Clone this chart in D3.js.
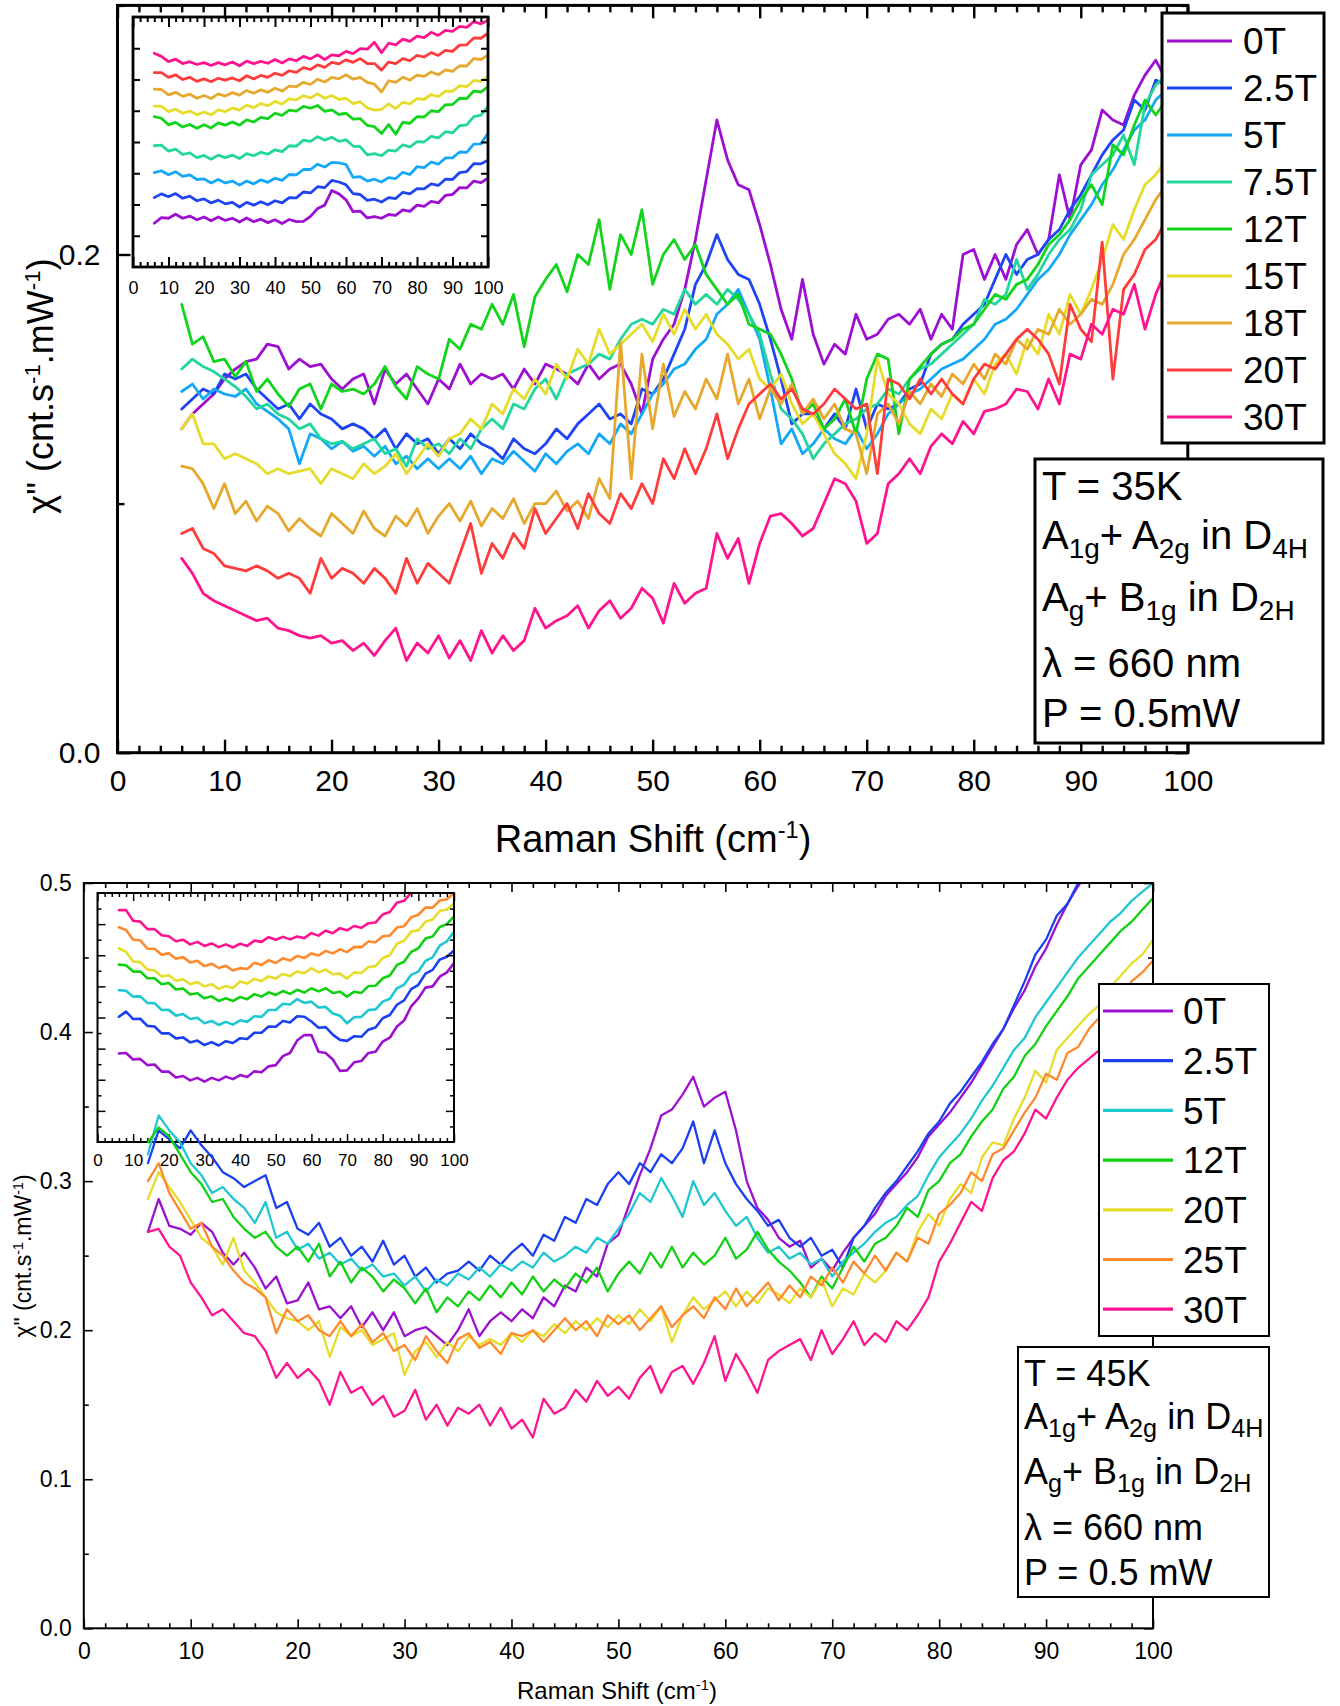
<!DOCTYPE html>
<html><head><meta charset="utf-8">
<script src="https://cdn.jsdelivr.net/npm/d3@7/dist/d3.min.js"></script>
<style>html,body{margin:0;padding:0;background:#fff}svg{display:block}text{white-space:pre}</style>
</head><body>
<svg id="chart" width="1340" height="1706" xmlns="http://www.w3.org/2000/svg"></svg>
<script>
// ================= DATA =================
// Raman shift sampling (cm^-1)
const shiftTop=[6,7,8,9,10,11,12,13,14,15,16,17,18,19,20,21,22,23,24,25,26,27,28,29,30,31,32,33,34,35,36,37,38,39,40,41,42,43,44,45,46,47,48,49,50,51,52,53,54,55,56,57,58,59,60,61,62,63,64,65,66,67,68,69,70,71,72,73,74,75,76,77,78,79,80,81,82,83,84,85,86,87,88,89,90,91,92,93,94,95,96,97,98];
const shiftBottom=[6,7,8,9,10,11,12,13,14,15,16,17,18,19,20,21,22,23,24,25,26,27,28,29,30,31,32,33,34,35,36,37,38,39,40,41,42,43,44,45,46,47,48,49,50,51,52,53,54,55,56,57,58,59,60,61,62,63,64,65,66,67,68,69,70,71,72,73,74,75,76,77,78,79,80,81,82,83,84,85,86,87,88,89,90,91,92,93,94,95,96,97,98,99,100];
const shiftInset=[6,8,10,12,14,16,18,20,22,24,26,28,30,32,34,36,38,40,42,44,46,48,50,52,54,56,58,60,62,64,66,68,70,72,74,76,78,80,82,84,86,88,90,92,94,96,98,100];

// Top panel (T = 35K): chi'' in units of 1e-3 cnt.s^-1.mW^-1
const fieldsTop=['0T','2.5T','5T','7.5T','12T','15T','18T','20T','30T'];
const top0T=[130,136,140,144,150,154,157,158,164,163,154,158,155,156,150,146,150,152,140,154,148,152,146,140,150,146,156,148,152,150,152,146,154,148,156,154,152,148,156,150,154,156,148,136,158,166,172,186,206,230,254,238,228,226,212,196,178,166,190,168,156,164,160,176,166,168,174,176,172,178,166,176,170,200,202,190,200,190,204,210,200,206,232,214,236,242,258,254,252,264,272,278,270];
const top2p5T=[138,142,146,144,152,150,152,146,142,138,140,134,140,136,134,130,132,130,126,130,122,128,124,126,120,126,122,128,124,122,118,126,122,120,124,130,126,132,136,140,134,136,132,146,144,150,160,170,188,196,208,198,192,190,180,166,150,132,136,136,130,136,130,146,130,140,138,140,146,148,160,164,166,172,176,180,190,200,192,198,200,206,210,218,224,232,240,246,250,262,258,270,268];
const top5T=[145,148,142,146,144,143,146,140,137,134,130,116,128,126,122,125,121,123,119,123,116,119,114,118,114,118,114,119,112,118,116,121,117,113,120,116,121,124,120,128,124,132,128,136,144,148,154,156,162,166,176,180,186,176,166,146,124,130,120,124,130,126,124,130,122,128,136,140,144,146,150,154,156,158,162,166,172,174,178,184,190,194,200,208,214,220,228,234,242,250,254,262,266];
const top7p5T=[154,158,155,153,150,147,143,138,140,136,134,130,132,126,124,125,122,124,126,120,122,115,126,122,124,120,126,122,130,134,130,140,138,146,150,142,152,154,156,160,158,166,172,174,172,178,176,186,180,184,180,186,182,176,168,152,138,134,128,118,124,128,132,134,138,140,146,144,150,154,156,160,164,168,172,182,180,184,198,186,192,200,206,210,218,232,236,240,248,236,260,268,272];
const top12T=[180,164,167,157,158,151,157,145,150,144,139,146,148,138,148,145,146,144,148,155,147,142,155,152,150,166,162,172,170,180,172,184,163,183,190,196,185,200,196,214,186,208,200,218,188,200,206,198,204,192,186,180,184,172,170,168,160,150,136,140,130,134,142,128,150,160,158,128,150,155,160,164,166,170,172,178,184,182,188,190,196,204,208,214,222,228,220,244,240,252,262,256,262];
const top15T=[130,136,124,124,118,120,118,116,112,114,112,113,114,108,114,112,110,116,112,115,120,112,118,124,119,126,128,134,130,140,136,146,142,150,144,156,150,162,156,170,160,164,168,172,165,176,168,178,170,176,168,164,158,162,150,146,152,140,132,136,128,120,116,110,128,158,144,140,132,128,138,134,144,140,150,144,156,160,152,166,160,176,168,184,176,186,198,212,206,218,228,232,238];
const top18T=[115,114,108,98,108,96,101,93,99,96,89,94,90,87,96,92,88,97,90,87,95,91,98,88,95,100,93,101,91,98,94,102,92,100,100,105,97,101,94,110,102,165,110,160,130,156,135,145,138,150,142,160,140,150,134,146,140,148,136,142,134,140,130,128,112,136,140,132,145,140,148,143,152,148,156,150,160,156,166,162,170,168,178,172,176,182,180,188,200,206,214,222,228];
const top20T=[88,90,82,80,75,74,73,75,73,70,72,70,64,78,70,74,72,68,74,70,64,78,68,76,72,68,80,92,72,84,78,88,82,98,88,94,100,90,104,96,92,104,98,108,100,118,110,122,112,122,136,118,130,140,144,148,142,146,138,136,140,146,142,138,140,112,150,148,142,150,144,150,144,140,150,156,154,160,166,170,166,160,148,180,170,165,205,150,186,192,202,206,214];
const top30T=[78,72,64,61,59,57,55,53,54,50,49,47,46,47,44,45,41,44,39,45,50,37,44,40,47,38,45,37,49,40,47,41,45,58,50,53,55,59,50,57,61,54,58,66,62,52,68,60,64,66,88,78,86,68,84,95,96,92,87,90,100,110,108,101,84,88,108,112,118,112,123,128,124,133,128,137,138,140,146,145,138,150,140,160,158,172,168,178,176,188,170,184,194];

// Top inset: offset spectra (arb. units x100)
const topIn0T=[140,158,156,169,156,163,151,160,148,160,149,156,144,157,145,153,142,151,139,152,145,146,162,187,198,245,234,215,177,179,157,161,156,168,165,183,178,198,194,210,205,229,232,254,253,275,270,284];
const topIn2p5T=[222,234,225,235,220,227,212,218,205,214,202,207,192,207,198,209,199,212,205,222,221,240,237,257,254,277,272,263,235,232,213,217,208,222,219,239,234,251,250,266,261,281,280,302,305,331,330,342];
const topIn5T=[302,308,295,305,290,295,280,282,269,280,269,275,262,275,266,279,271,284,277,296,295,312,312,329,320,335,333,328,287,289,275,281,272,286,283,303,296,321,318,336,329,349,349,368,367,393,394,428];
const topIn7p5T=[388,390,371,377,360,365,350,357,345,358,350,358,347,363,356,367,361,375,369,388,387,406,402,417,406,415,402,407,387,385,359,363,356,374,371,391,384,401,400,418,413,433,429,452,455,481,486,513];
const topIn12T=[481,476,455,463,448,456,444,455,445,461,454,464,454,471,464,479,475,492,485,502,499,514,508,517,498,503,488,492,473,475,453,449,427,456,425,463,460,481,480,500,497,519,520,540,539,563,560,577];
const topIn15T=[515,514,497,505,492,499,487,496,487,503,497,509,502,518,510,523,516,530,521,538,535,548,541,554,540,549,536,540,523,529,509,502,504,522,507,527,522,539,536,552,545,563,562,580,577,597,594,609];
const topIn18T=[569,568,551,559,546,553,540,549,539,554,547,558,550,565,556,567,559,572,563,579,577,591,584,601,592,607,602,615,601,607,591,585,560,596,591,607,598,614,610,624,615,631,626,644,643,667,664,678];
const topIn20T=[622,622,607,615,600,607,594,602,593,604,598,605,596,612,602,613,607,620,613,628,623,638,632,647,639,655,650,663,655,667,651,651,630,656,651,667,660,677,672,686,677,693,690,710,711,733,732,748];
const topIn30T=[684,674,657,665,651,657,648,654,645,654,647,656,644,659,651,658,652,664,653,666,660,674,666,679,664,679,676,690,683,699,697,719,686,716,711,729,722,739,734,751,741,757,754,770,767,785,778,790];

// Bottom panel (T = 45K): chi'' in units of 1e-3 cnt.s^-1.mW^-1
const fieldsBottom=['0T','2.5T','5T','12T','20T','25T','30T'];
const bot0T=[266,288,270,268,264,272,266,252,244,252,242,228,236,218,220,232,214,216,208,216,202,212,200,212,196,200,202,196,190,200,214,196,206,212,206,214,208,222,216,230,226,242,236,258,264,284,304,322,344,348,358,370,350,356,360,334,300,282,274,262,256,260,242,248,240,252,262,270,278,290,298,306,316,330,338,346,356,366,378,390,402,416,428,444,456,472,486,498,508,516,524,534,540,548,556];
const bot2p5T=[312,334,328,322,334,324,316,306,302,296,300,304,282,286,268,264,272,256,262,250,256,246,260,244,250,236,242,232,238,240,246,240,250,244,252,258,250,264,260,276,272,288,284,298,306,298,312,306,318,312,322,340,312,334,312,298,288,280,270,274,262,256,262,250,254,242,262,270,282,292,300,310,320,332,340,352,360,370,380,392,402,418,434,452,462,478,486,500,512,520,530,540,548,556,566];
const bot5T=[318,344,334,326,312,304,292,296,288,282,272,286,262,266,254,258,248,252,244,248,240,244,236,238,230,236,226,234,230,238,234,242,236,244,240,246,242,252,246,250,256,252,262,258,268,278,292,286,302,290,276,300,284,292,280,270,276,262,252,256,248,252,244,248,236,246,252,258,266,272,276,284,290,304,316,324,332,342,354,364,376,388,396,410,420,430,440,450,458,466,474,480,488,494,500];
const bot12T=[326,336,330,318,306,298,286,288,276,268,262,266,256,250,256,246,258,236,246,232,242,236,226,234,228,218,228,212,222,216,226,220,230,222,232,224,236,226,234,228,238,232,242,226,238,246,238,252,242,256,242,252,244,250,262,248,254,266,254,246,240,232,222,236,228,242,256,246,258,262,270,282,276,294,300,312,318,330,340,348,362,370,384,392,404,414,424,436,444,452,460,468,474,482,490];
const bot20T=[288,306,296,286,274,262,256,244,262,240,232,222,212,208,206,200,206,182,202,196,200,190,194,198,170,186,192,182,192,186,196,190,194,190,198,192,200,196,204,198,206,200,208,202,210,204,214,206,216,192,210,222,214,220,226,216,226,218,228,224,218,228,222,234,216,228,224,238,232,240,252,246,266,278,270,288,298,292,316,326,324,342,356,374,366,388,396,404,412,418,430,438,446,452,462];
const bot25T=[300,312,292,280,268,272,256,250,240,232,228,222,198,214,206,210,200,196,206,196,204,192,198,186,190,180,196,186,178,194,198,188,192,184,198,196,200,192,200,208,200,206,196,210,204,210,200,208,216,202,210,216,208,222,214,228,216,224,232,220,230,222,236,230,242,232,246,238,250,240,252,246,262,258,278,284,292,306,300,318,322,334,346,356,372,368,386,390,402,410,418,424,434,440,448];
const bot30T=[266,268,256,250,232,222,210,214,206,198,196,186,168,178,168,174,166,150,172,158,162,150,156,142,146,160,140,150,136,148,144,150,136,148,134,140,128,154,144,148,160,152,166,156,162,154,168,176,158,172,176,164,178,196,166,184,172,158,180,186,190,194,180,200,184,194,206,190,198,192,206,200,210,222,246,258,272,286,280,302,314,320,332,348,342,356,368,376,382,388,380,396,404,402,418];

// Bottom inset: offset spectra (arb. units x100)
const botIn0T=[569,572,530,534,494,498,452,452,414,424,396,412,388,412,396,420,404,430,418,454,448,486,494,552,572,652,687,688,580,572,530,457,460,512,520,572,580,645,670,742,780,872,923,992,1000,1062,1090,1150];
const botIn2p5T=[805,838,790,792,746,742,698,699,666,672,640,652,623,642,620,648,636,667,662,702,702,742,741,778,768,808,805,774,734,738,690,656,650,680,676,722,736,795,816,882,910,982,1010,1082,1106,1172,1190,1230];
const botIn5T=[976,972,934,936,894,892,848,849,812,822,790,798,763,778,752,772,754,782,772,808,804,848,848,888,884,918,894,902,864,868,826,812,763,802,804,848,852,902,920,988,1010,1074,1095,1164,1186,1262,1290,1350];
const botIn12T=[1140,1136,1095,1096,1052,1052,1014,1022,980,986,948,956,923,936,906,924,906,932,918,950,934,962,945,970,952,978,960,988,968,988,958,966,934,966,958,1002,1004,1052,1070,1138,1158,1222,1245,1308,1320,1382,1400,1450];
const botIn20T=[1245,1222,1160,1156,1108,1102,1064,1072,1036,1046,1014,1028,1000,1014,984,1002,990,1032,1018,1048,1034,1064,1050,1080,1066,1096,1084,1117,1090,1108,1078,1082,1050,1090,1086,1124,1130,1182,1200,1274,1294,1352,1360,1416,1430,1486,1494,1530];
const botIn25T=[1380,1362,1300,1296,1242,1242,1204,1212,1178,1188,1154,1164,1130,1146,1118,1132,1102,1117,1112,1152,1138,1168,1150,1180,1166,1196,1182,1212,1198,1228,1212,1238,1220,1254,1252,1288,1284,1322,1326,1378,1386,1444,1460,1506,1506,1552,1560,1600];
const botIn30T=[1490,1490,1422,1416,1368,1368,1328,1322,1290,1300,1270,1286,1260,1276,1252,1270,1250,1274,1260,1294,1286,1316,1300,1318,1302,1320,1310,1342,1326,1358,1342,1374,1360,1388,1376,1406,1410,1462,1478,1538,1550,1602,1610,1662,1670,1722,1730,1770];

// Tick values
const xMajorTicks=[0,10,20,30,40,50,60,70,80,90,100];
const yTopMajor=[0,200], yTopMinor=[100,300];
const yBotMajor=[0,100,200,300,400,500], yBotMinor=[50,150,250,350,450];
const yTopInsetTicks=[100,200,300,400,500,600,700];
const yBotInsetMajor=[200,400,600,800,1000,1200,1400], yBotInsetMinor=[100,300,500,700,900,1100,1300,1500];

// ================= STYLE =================
const colorsTop=['#9d10d2','#1f44f2','#14a8f6','#22d69e','#12d41c','#e6dc2c','#e6a82e','#ff3c3c','#ff1490'];
const colorsBottom=['#9c10d0','#1a40f0','#20c6d0','#12d012','#e6dc2c','#ff8a2e','#ff1490'];
const FONT='"Liberation Sans", Arial, Helvetica, sans-serif';
const xMinorTicks=d3.range(0,101,2).filter(v=>v%10!==0);

const svg=d3.select('#chart');
svg.append('rect').attr('width',1340).attr('height',1706).attr('fill','#fff');
let clipN=0;

function rich(parent,x,y,size,segs,opt={}){
  const t=parent.append('text').attr('x',x).attr('y',y).attr('font-family',FONT)
    .attr('font-size',size).attr('fill','#000');
  if(opt.anchor) t.attr('text-anchor',opt.anchor);
  if(opt.transform) t.attr('transform',opt.transform);
  let cur=0;
  segs.forEach(s=>{
    let off=0,fs=size;
    if(s.sub){off=size*(opt.subOff||0.22);fs=size*0.7;}
    if(s.sup){off=-size*0.36;fs=size*0.62;}
    const sp=t.append('tspan').text(s.t).attr('font-size',fs);
    if(off!==cur) sp.attr('dy',off-cur);
    cur=off;
  });
  return t;
}

function frameAxes(g,x,y,o){
  const none=()=>'';
  function put(axis,tx,ty){
    const a=g.append('g').attr('transform',`translate(${tx},${ty})`).call(axis);
    a.select('.domain').remove();
    a.selectAll('.tick line').attr('stroke','#000').attr('stroke-width',o.tickW);
    a.selectAll('.tick text').attr('font-family',FONT).attr('font-size',o.font).attr('fill','#000');
    return a;
  }
  put(d3.axisBottom(x).tickValues(o.xMinor).tickSizeInner(-o.xMinLen).tickSizeOuter(0).tickFormat(none),0,o.bottom);
  put(d3.axisBottom(x).tickValues(o.xMajor).tickSizeInner(-o.xMajLen).tickSizeOuter(0).tickPadding(o.xPad).tickFormat(o.xFmt||none),0,o.bottom);
  put(d3.axisTop(x).tickValues(o.xMinor).tickSizeInner(-o.xMinLen).tickSizeOuter(0).tickFormat(none),0,o.top);
  put(d3.axisTop(x).tickValues(o.xMajor).tickSizeInner(-o.xMajLen).tickSizeOuter(0).tickFormat(none),0,o.top);
  if(o.yMinor.length){
    put(d3.axisLeft(y).tickValues(o.yMinor).tickSizeInner(-o.yMinLen).tickSizeOuter(0).tickFormat(none),o.left,0);
    put(d3.axisRight(y).tickValues(o.yMinor).tickSizeInner(-o.yMinLen).tickSizeOuter(0).tickFormat(none),o.right,0);
  }
  put(d3.axisLeft(y).tickValues(o.yMajor).tickSizeInner(-o.yMajLen).tickSizeOuter(0).tickPadding(o.yPad).tickFormat(o.yFmt||none),o.left,0);
  put(d3.axisRight(y).tickValues(o.yMajor).tickSizeInner(-o.yMajLen).tickSizeOuter(0).tickFormat(none),o.right,0);
  g.append('rect').attr('x',o.left).attr('y',o.top).attr('width',o.right-o.left).attr('height',o.bottom-o.top)
    .attr('fill','none').attr('stroke','#000').attr('stroke-width',o.frameW);
}

function plotLines(g,x,y,o,shift,series,colors,lw){
  const id='clip'+(clipN++);
  svg.append('clipPath').attr('id',id).append('rect')
    .attr('x',o.left).attr('y',o.top).attr('width',o.right-o.left).attr('height',o.bottom-o.top);
  const line=d3.line().x((d,i)=>x(shift[i])).y(d=>y(d));
  const lg=g.append('g').attr('clip-path',`url(#${id})`);
  series.forEach((s,i)=>{
    lg.append('path').datum(s).attr('d',line).attr('fill','none').attr('stroke',colors[i])
      .attr('stroke-width',lw).attr('stroke-linejoin','round').attr('stroke-linecap','round');
  });
}

function legend(g,o,labels,colors){
  g.append('rect').attr('x',o.x).attr('y',o.y).attr('width',o.w).attr('height',o.h)
    .attr('fill','#fff').attr('stroke','#000').attr('stroke-width',o.sw);
  labels.forEach((lab,i)=>{
    const yy=o.y0+i*o.dy;
    g.append('line').attr('x1',o.lx1).attr('x2',o.lx2).attr('y1',yy).attr('y2',yy)
      .attr('stroke',colors[i]).attr('stroke-width',3.2);
    g.append('text').attr('x',o.tx).attr('y',yy+o.size*0.36).attr('font-family',FONT)
      .attr('font-size',o.size).attr('fill','#000').text(lab);
  });
}

function infoBox(g,o,lines){
  g.append('rect').attr('x',o.x).attr('y',o.y).attr('width',o.w).attr('height',o.h)
    .attr('fill','#fff').attr('stroke','#000').attr('stroke-width',o.sw);
  lines.forEach((segs,i)=>rich(g,o.tx,o.base[i],o.size,segs));
}

function boxLines(T,P){
  return [
    [{t:'T = '+T}],
    [{t:'A'},{t:'1g',sub:true},{t:'+ A'},{t:'2g',sub:true},{t:' in D'},{t:'4H',sub:true}],
    [{t:'A'},{t:'g',sub:true},{t:'+ B'},{t:'1g',sub:true},{t:' in D'},{t:'2H',sub:true}],
    [{t:'\u03bb = 660 nm'}],
    [{t:'P = '+P}]
  ];
}
const yLabelSegs=[{t:'\u03c7" (cnt.s'},{t:'-1',sup:true},{t:'.mW'},{t:'-1',sup:true},{t:')'}];
const xLabelSegs=[{t:'Raman Shift (cm'},{t:'-1',sup:true},{t:')'}];

// ================= TOP PANEL =================
(function(){
  const g=svg.append('g');
  const o={left:117.5,right:1187.8,top:5.4,bottom:752.7};
  const x=d3.scaleLinear().domain([0,100]).range([o.left,o.right]);
  const y=d3.scaleLinear().domain([0,300]).range([o.bottom,o.top]);
  const io={left:133,right:488,top:17,bottom:267};
  const ix=d3.scaleLinear().domain([0,100]).range([io.left,io.right]);
  const iy=d3.scaleLinear().domain([0,800]).range([io.bottom,io.top]);
  g.append('rect').attr('x',io.left).attr('y',io.top).attr('width',io.right-io.left).attr('height',io.bottom-io.top).attr('fill','#fff');
  plotLines(g,ix,iy,io,shiftInset,[topIn0T,topIn2p5T,topIn5T,topIn7p5T,topIn12T,topIn15T,topIn18T,topIn20T,topIn30T],colorsTop,2.8);
  frameAxes(g,ix,iy,Object.assign({},io,{xMajor:xMajorTicks,xMinor:xMinorTicks,yMajor:yTopInsetTicks,yMinor:[],
    xMajLen:10,xMinLen:5,yMajLen:7,yMinLen:4,xPad:14,yPad:4,font:18,tickW:2,frameW:2.8,xFmt:d3.format('d')}));
  plotLines(g,x,y,o,shiftTop,[top0T,top2p5T,top5T,top7p5T,top12T,top15T,top18T,top20T,top30T],colorsTop,2.8);
  frameAxes(g,x,y,Object.assign({},o,{xMajor:xMajorTicks,xMinor:xMinorTicks,yMajor:yTopMajor,yMinor:yTopMinor,
    xMajLen:13,xMinLen:7,yMajLen:13,yMinLen:7,xPad:17,yPad:17,font:30,tickW:2.4,frameW:3,
    xFmt:d3.format('d'),yFmt:d=>(d/1000).toFixed(1)}));
  rich(g,653,852,38,xLabelSegs,{anchor:'middle'});
  rich(g,0,0,36,yLabelSegs,{anchor:'middle',transform:'translate(40,386) rotate(-90) translate(0,13)'});
  legend(g,{x:1162,y:13,w:162,h:430,sw:3,y0:41,dy:47,lx1:1167,lx2:1232,tx:1243,size:37},fieldsTop,colorsTop);
  infoBox(g,{x:1035,y:459,w:288,h:284,sw:3,tx:1042,base:[500,549,611,677,727],size:40},boxLines('35K','0.5mW'));
})();

// ================= BOTTOM PANEL =================
(function(){
  const g=svg.append('g');
  const o={left:83.8,right:1153,top:883,bottom:1628.3};
  const x=d3.scaleLinear().domain([0,100]).range([o.left,o.right]);
  const y=d3.scaleLinear().domain([0,500]).range([o.bottom,o.top]);
  const io={left:97.5,right:454,top:893,bottom:1142};
  const ix=d3.scaleLinear().domain([0,100]).range([io.left,io.right]);
  const iy=d3.scaleLinear().domain([0,1600]).range([io.bottom,io.top]);
  g.append('rect').attr('x',io.left).attr('y',io.top).attr('width',io.right-io.left).attr('height',io.bottom-io.top).attr('fill','#fff');
  plotLines(g,ix,iy,io,shiftInset,[botIn0T,botIn2p5T,botIn5T,botIn12T,botIn20T,botIn25T,botIn30T],colorsBottom,2.6);
  frameAxes(g,ix,iy,Object.assign({},io,{xMajor:xMajorTicks,xMinor:xMinorTicks,yMajor:yBotInsetMajor,yMinor:yBotInsetMinor,
    xMajLen:8,xMinLen:4,yMajLen:8,yMinLen:4,xPad:12,yPad:4,font:17,tickW:1.5,frameW:2,xFmt:d3.format('d')}));
  plotLines(g,x,y,o,shiftBottom,[bot0T,bot2p5T,bot5T,bot12T,bot20T,bot25T,bot30T],colorsBottom,2.3);
  frameAxes(g,x,y,Object.assign({},o,{xMajor:xMajorTicks,xMinor:xMinorTicks,yMajor:yBotMajor,yMinor:yBotMinor,
    xMajLen:9,xMinLen:5,yMajLen:9,yMinLen:5,xPad:14,yPad:12,font:23,tickW:1.6,frameW:2,
    xFmt:d3.format('d'),yFmt:d=>(d/1000).toFixed(1)}));
  rich(g,617,1699,24,xLabelSegs,{anchor:'middle'});
  rich(g,0,0,23,yLabelSegs,{anchor:'middle',transform:'translate(23,1256) rotate(-90) translate(0,8)'});
  legend(g,{x:1099,y:984,w:170,h:352,sw:2,y0:1011,dy:49.7,lx1:1103,lx2:1173,tx:1183,size:37},fieldsBottom,colorsBottom);
  infoBox(g,{x:1018,y:1347,w:251,h:250,sw:2,tx:1024,base:[1386,1429,1484,1540,1585],size:36},boxLines('45K','0.5 mW'));
})();
</script>
</body></html>
